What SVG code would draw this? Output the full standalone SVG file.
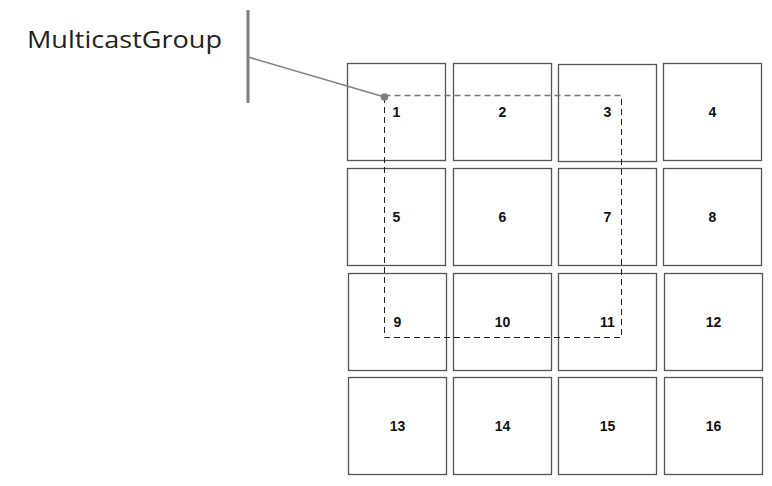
<svg xmlns="http://www.w3.org/2000/svg" width="772" height="486" viewBox="0 0 772 486">
<style>
.cell rect{fill:#fff;stroke:#555;stroke-width:1.3}
.cell text{font-family:"Liberation Sans",Arial,sans-serif;font-weight:bold;font-size:14px;fill:#111;text-anchor:middle;dominant-baseline:central}
.title{font-family:"Open Sans","Liberation Sans",sans-serif;font-size:24px;fill:#222}
</style>
<rect width="772" height="486" fill="#fff"/>
<g id="label"><text class="title" x="27" y="48" textLength="195" lengthAdjust="spacingAndGlyphs">MulticastGroup</text></g>
<g id="cells">
<g id="n1" class="cell"><rect x="347.5" y="63.5" width="98" height="97"/><text x="396.5" y="112">1</text></g>
<g id="n2" class="cell"><rect x="453.5" y="63.5" width="98" height="97"/><text x="502.5" y="112">2</text></g>
<g id="n3" class="cell"><rect x="558.5" y="64.5" width="98" height="97"/><text x="607.5" y="112">3</text></g>
<g id="n4" class="cell"><rect x="663.5" y="63.5" width="98" height="97"/><text x="712.5" y="112">4</text></g>
<g id="n5" class="cell"><rect x="347.5" y="168.5" width="98" height="97"/><text x="396.5" y="217">5</text></g>
<g id="n6" class="cell"><rect x="453.5" y="168.5" width="98" height="97"/><text x="502.5" y="217">6</text></g>
<g id="n7" class="cell"><rect x="558.5" y="168.5" width="98" height="97"/><text x="607.5" y="217">7</text></g>
<g id="n8" class="cell"><rect x="663.5" y="168.5" width="98" height="97"/><text x="712.5" y="217">8</text></g>
<g id="n9" class="cell"><rect x="348.5" y="273.5" width="98" height="97"/><text x="397.5" y="322">9</text></g>
<g id="n10" class="cell"><rect x="453.5" y="273.5" width="98" height="97"/><text x="502.5" y="322">10</text></g>
<g id="n11" class="cell"><rect x="558.5" y="273.5" width="98" height="97"/><text x="607.5" y="322">11</text></g>
<g id="n12" class="cell"><rect x="664.5" y="273.5" width="98" height="97"/><text x="713.5" y="322">12</text></g>
<g id="n13" class="cell"><rect x="348.5" y="377.5" width="98" height="97"/><text x="397.5" y="426">13</text></g>
<g id="n14" class="cell"><rect x="453.5" y="377.5" width="98" height="97"/><text x="502.5" y="426">14</text></g>
<g id="n15" class="cell"><rect x="558.5" y="377.5" width="98" height="97"/><text x="607.5" y="426">15</text></g>
<g id="n16" class="cell"><rect x="664.5" y="377.5" width="98" height="97"/><text x="713.5" y="426">16</text></g>
</g>
<g id="connectors">
<path d="M384.5 97 V337.5 H621.5 V95.5" fill="none" stroke="#222" stroke-width="1" stroke-dasharray="6,4"/>
<path d="M384.5 95.5 H621.5" fill="none" stroke="#777" stroke-width="1.5" stroke-dasharray="6,4"/>
<line x1="248" y1="10" x2="248" y2="103" stroke="#808080" stroke-width="3"/>
<line x1="248" y1="57" x2="384.5" y2="97" stroke="#808080" stroke-width="1.5"/>
<circle cx="384.5" cy="97" r="3.8" fill="#808080"/>
</g>
</svg>
